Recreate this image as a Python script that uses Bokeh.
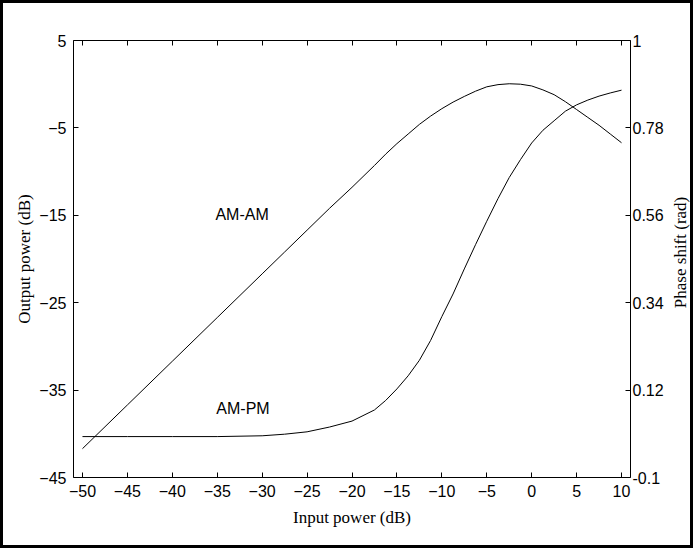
import math
from bokeh.plotting import figure
from bokeh.layouts import row
from bokeh.models import Range1d, LinearAxis, FixedTicker, CustomJSTickFormatter, Label
from bokeh.embed import file_html
from bokeh.resources import INLINE

# Data
input_db = [-50, -45, -40, -35, -30, -27.5, -25, -22.5, -20, -17.5, -16.25, -15, -13.75,
            -12.5, -11.25, -10, -8.75, -7.5, -6.25, -5, -3.75, -2.5, -1.25, 0, 1.25, 2.5,
            3.75, 5, 6.25, 7.5, 8.75, 10]
am_am_db = [-41.7, -36.7, -31.7, -26.7, -21.7, -19.2, -16.7, -14.2, -11.8, -9.3, -8.0, -6.8,
            -5.7, -4.6, -3.65, -2.8, -2.05, -1.4, -0.8, -0.3, -0.05, 0.05, 0.0, -0.2, -0.65,
            -1.2, -2.0, -2.9, -3.8, -4.7, -5.7, -6.7]
am_pm_rad = [0.003, 0.003, 0.003, 0.003, 0.005, 0.009, 0.015, 0.027, 0.042, 0.07, 0.094, 0.123,
             0.156, 0.195, 0.245, 0.305, 0.362, 0.425, 0.486, 0.545, 0.602, 0.655, 0.700, 0.742,
             0.774, 0.798, 0.822, 0.838, 0.85, 0.86, 0.868, 0.875]

x_ticks = [-50, -45, -40, -35, -30, -25, -20, -15, -10, -5, 0, 5, 10]
left_ticks = [-45, -35, -25, -15, -5, 5]
right_ticks = [-0.1, 0.12, 0.34, 0.56, 0.78, 1.0]

SANS = "Liberation Sans"
SERIF = "Liberation Serif"
TICK_SIZE = "16px"
LABEL_SIZE = "17px"

B_LEFT, B_RIGHT, B_TOP, B_BOTTOM = 70, 40, 37, 68
FW, FH = 557, 437
H = B_TOP + FH + B_BOTTOM

p = figure(width=B_LEFT + FW + B_RIGHT, height=H,
           x_range=Range1d(-51, 11), y_range=Range1d(-45, 5),
           output_backend="svg", toolbar_location=None,
           min_border_left=B_LEFT, min_border_right=B_RIGHT,
           min_border_top=B_TOP, min_border_bottom=B_BOTTOM)
p.extra_y_ranges = {"phase": Range1d(-0.1, 1.0)}
p.grid.visible = False
p.outline_line_color = None
p.background_fill_color = "white"
p.border_fill_color = "white"


def style_axis(ax):
    ax.axis_line_color = "black"
    ax.axis_line_width = 1
    ax.major_tick_line_color = "black"
    ax.major_tick_in = 5
    ax.major_tick_out = 0
    ax.minor_tick_line_color = None
    ax.major_label_text_font = SANS
    ax.major_label_text_font_size = TICK_SIZE
    ax.major_label_text_color = "black"
    ax.axis_label_text_font = SERIF
    ax.axis_label_text_font_size = LABEL_SIZE
    ax.axis_label_text_font_style = "normal"
    ax.axis_label_text_color = "black"


xa = p.xaxis[0]
style_axis(xa)
xa.ticker = FixedTicker(ticks=x_ticks)
xa.axis_label = "Input power (dB)"
xa.major_label_standoff = 7
xa.axis_label_standoff = 8

ya = p.yaxis[0]
style_axis(ya)
ya.ticker = FixedTicker(ticks=left_ticks)
ya.axis_label = "Output power (dB)"
ya.major_label_standoff = 7
ya.axis_label_standoff = 2

ra = LinearAxis(y_range_name="phase")
style_axis(ra)
ra.ticker = FixedTicker(ticks=right_ticks)
ra.formatter = CustomJSTickFormatter(code="return (Math.round(tick*100)/100).toString();")
ra.major_label_standoff = 2
p.add_layout(ra, "right")

ta = LinearAxis()
style_axis(ta)
ta.ticker = FixedTicker(ticks=x_ticks)
ta.formatter = CustomJSTickFormatter(code="return '';")
p.add_layout(ta, "above")

p.line(input_db, am_am_db, line_color="black", line_width=1)
p.line(input_db, am_pm_rad, line_color="black", line_width=1, y_range_name="phase")

p.add_layout(Label(x=-35.2, y=-14.9, text="AM-AM", text_font=SANS, text_font_size="16px",
                   text_baseline="middle", text_align="left", text_color="black"))
p.add_layout(Label(x=-35.1, y=-37.1, text="AM-PM", text_font=SANS, text_font_size="16px",
                   text_baseline="middle", text_align="left", text_color="black"))

# narrow strip holding the right-hand axis title, reading bottom to top
W2 = 20
p2 = figure(width=W2, height=H, x_range=Range1d(0, 1), y_range=Range1d(0, 1),
            x_axis_type=None, y_axis_type=None, title=None,
            output_backend="svg", toolbar_location=None,
            min_border_left=0, min_border_right=0, min_border_top=0, min_border_bottom=0)
p2.grid.visible = False
p2.outline_line_color = None
p2.background_fill_color = "white"
p2.border_fill_color = "white"
p2.add_layout(Label(x=0.5, y=0.515, text="Phase shift (rad)", angle=math.pi / 2,
                    text_font=SERIF, text_font_size=LABEL_SIZE,
                    text_baseline="middle", text_align="center", text_color="black"))

layout = row(p, p2, spacing=0, styles={"border": "3px solid black"})

open("out.html", "w").write(file_html(layout, INLINE))
